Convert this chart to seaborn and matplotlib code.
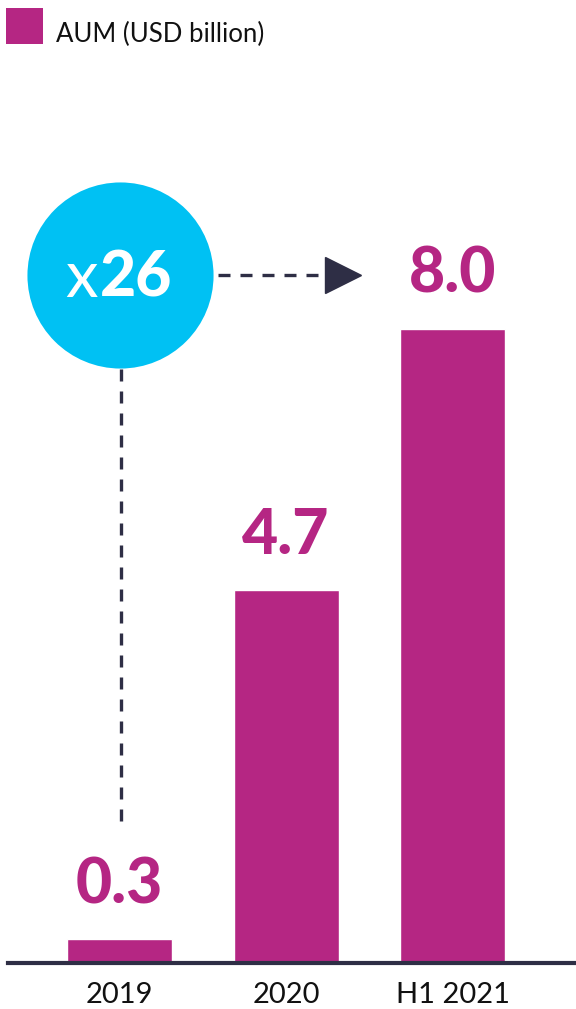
import matplotlib
matplotlib.use("Agg")
import matplotlib.pyplot as plt
import matplotlib.transforms as mtransforms
from matplotlib.patches import Rectangle
import seaborn as sns

# Assets under management by period
categories = ["2019", "2020", "H1 2021"]
aum = [0.3, 4.7, 8.0]
value_labels = ["0.3", "4.7", "8.0"]
growth_label_prefix = "x"
growth_label_value = "26"
series_name = "AUM (USD billion)"

MAGENTA = "#B52683"
CYAN = "#00C1F3"
NAVY = "#2E2E45"
FONT = "Lato"

sns.set_theme(style="white")
plt.rcParams["font.family"] = [FONT, "DejaVu Sans"]

fig = plt.figure(figsize=(5.76, 10.09), dpi=100)
ax = fig.add_axes([8 / 576, 46 / 1009, 1 - 8 / 576, 1 - 46 / 1009])

sns.barplot(x=categories, y=aum, color=MAGENTA, saturation=1, width=0.63, ax=ax)

ax.set_xlim(-0.67, 2.74)
ax.set_ylim(0, 12.15)

for s in ["left", "right", "top"]:
    ax.spines[s].set_visible(False)
ax.spines["bottom"].set_color(NAVY)
ax.spines["bottom"].set_linewidth(3)
ax.set_yticks([])
ax.tick_params(axis="x", length=0, pad=14, labelsize=21, labelcolor="#111111")
ax.set_xlabel("")

# value labels above each bar
for i, (v, t) in enumerate(zip(aum, value_labels)):
    ax.annotate(t, xy=(i, v), xytext=(0, 26), textcoords="offset points",
                ha="center", va="baseline", fontsize=45, fontweight="black",
                color=MAGENTA)

# growth badge, level with the latest value label
badge = mtransforms.offset_copy(ax.transData, fig=fig, x=0, y=39, units="points")
ax.scatter([0], [aum[-1]], s=134 ** 2, color=CYAN, transform=badge,
           zorder=3, clip_on=False, linewidths=0)
ax.annotate(growth_label_prefix, xy=(0, aum[-1]), xytext=(-16, 39 - 16),
            textcoords="offset points", ha="right", va="baseline",
            fontsize=47, fontweight="normal", color="white", zorder=4)
ax.annotate(growth_label_value, xy=(0, aum[-1]), xytext=(-14, 39 - 16),
            textcoords="offset points", ha="left", va="baseline",
            fontsize=45, fontweight="black", color="white", zorder=4)

# dashed connector from the badge to the latest value
dash_kw = dict(color=NAVY, lw=2.4, dashes=(3.6, 3.0), solid_capstyle="butt")
ax.plot([0.59, 1.24], [aum[-1], aum[-1]], transform=badge, **dash_kw)
ax.plot([1.34], [aum[-1]], marker=">", markersize=26, color=NAVY,
        transform=badge, linestyle="none")

# dashed drop line from the badge down to the first value
ax.plot([0.01, 0.01], [aum[-1] - 0.5, aum[0] + 1.38], **dash_kw)

# series key in the top-left corner
fig.patches.append(Rectangle((6 / 576, 1 - 44 / 1009), 37 / 576, 36 / 1009,
                             transform=fig.transFigure, color=MAGENTA,
                             linewidth=0))
fig.text(56 / 576, 1 - 42 / 1009, series_name, fontsize=18.5, color="#111111",
         ha="left", va="baseline")

fig.savefig("out.png", dpi=100)
